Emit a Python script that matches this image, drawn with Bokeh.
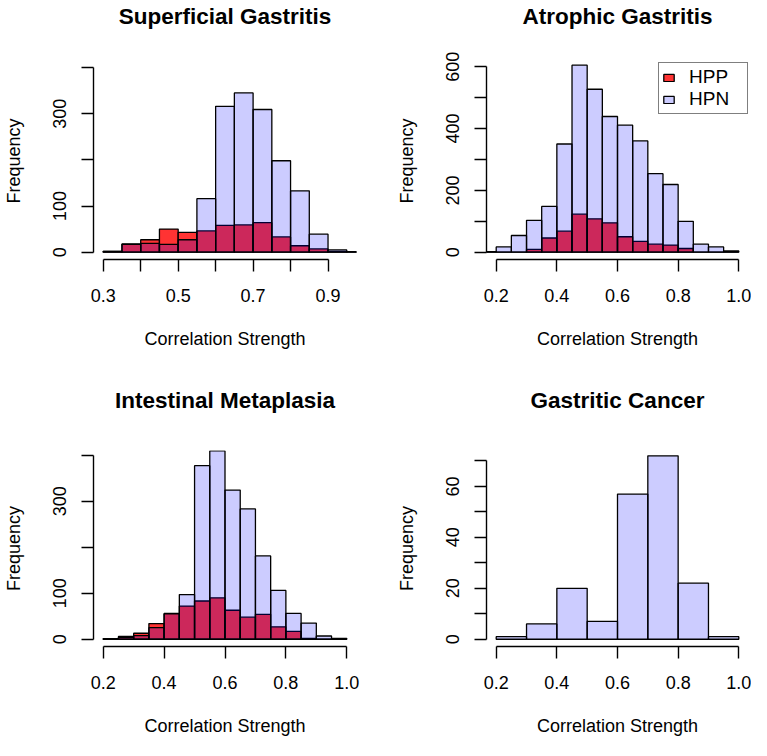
from bokeh.plotting import figure
from bokeh.layouts import gridplot
from bokeh.models import (FixedTicker, Range1d, Legend, LegendItem, Title,
                          PrintfTickFormatter)
from bokeh.embed import file_html
from bokeh.resources import INLINE

FONT = "Liberation Sans"
HPP_COLOR = "#ff0000"
HPN_COLOR = "#0000ff"

# ---------------- data ----------------
# Superficial Gastritis (bin width 0.05)
sg_left = [0.30, 0.35, 0.40, 0.45, 0.50, 0.55, 0.60, 0.65, 0.70, 0.75, 0.80, 0.85, 0.90, 0.95]
sg_hpp = [2, 18, 27, 50, 43, 46, 58, 59, 64, 33, 14, 7, 2, 0]
sg_hpn = [2, 17, 19, 17, 27, 116, 316, 345, 309, 198, 133, 39, 5, 1]

# Atrophic Gastritis
ag_left = [0.15, 0.20, 0.25, 0.30, 0.35, 0.40, 0.45, 0.50, 0.55, 0.60, 0.65, 0.70, 0.75, 0.80, 0.85, 0.90, 0.95]
ag_hpp = [0, 0, 0, 9, 46, 68, 123, 108, 95, 50, 35, 26, 23, 12, 0, 0, 0]
ag_hpn = [2, 17, 54, 103, 148, 350, 605, 527, 439, 411, 360, 254, 219, 100, 26, 17, 4]

# Intestinal Metaplasia
im_left = [0.20, 0.25, 0.30, 0.35, 0.40, 0.45, 0.50, 0.55, 0.60, 0.65, 0.70, 0.75, 0.80, 0.85, 0.90, 0.95]
im_hpp = [1, 6, 13, 34, 56, 72, 83, 90, 63, 48, 54, 27, 17, 2, 0, 0]
im_hpn = [1, 4, 8, 25, 55, 97, 377, 409, 324, 283, 181, 106, 56, 35, 7, 2]

# Gastritic Cancer (bin width 0.1)
gc_left = [0.2, 0.3, 0.4, 0.5, 0.6, 0.7, 0.8, 0.9]
gc_hpn = [1, 6, 20, 7, 57, 72, 22, 1]

# tick labels (labelled) and unlabelled ticks
sg_xticks, sg_xminor = [0.3, 0.5, 0.7, 0.9], [0.4, 0.6, 0.8]
sg_yticks, sg_yminor = [0, 100, 300], [200, 400]
ag_xticks, ag_xminor = [0.2, 0.4, 0.6, 0.8, 1.0], []
ag_yticks, ag_yminor = [0, 200, 400, 600], [100, 300, 500]
im_xticks, im_xminor = [0.2, 0.4, 0.6, 0.8, 1.0], []
im_yticks, im_yminor = [0, 100, 300], [200, 400]
gc_xticks, gc_xminor = [0.2, 0.4, 0.6, 0.8, 1.0], []
gc_yticks, gc_yminor = [0, 20, 40, 60], [10, 30, 50, 70]

FRAME_W = 266


def make_panel(title, width, height, bl, br, bt, bb, xr, yr, xb, yb,
               xt, xm, yt, ym, spacer):
    p = figure(width=width, height=height, output_backend="svg", title=None,
               toolbar_location=None, x_range=Range1d(*xr), y_range=Range1d(*yr),
               min_border_left=bl, min_border_right=br,
               min_border_top=bt, min_border_bottom=bb)
    p.outline_line_color = None
    p.grid.visible = False
    p.background_fill_color = "white"
    p.border_fill_color = "white"

    for ax, ticks, minor, bounds, lab in ((p.xaxis[0], xt, xm, xb, "Correlation Strength"),
                                          (p.yaxis[0], yt, ym, yb, "Frequency")):
        ax.ticker = FixedTicker(ticks=ticks, minor_ticks=minor)
        ax.bounds = bounds
        ax.axis_label = lab
        ax.axis_label_text_font = FONT
        ax.axis_label_text_font_size = "18px"
        ax.axis_label_text_font_style = "normal"
        ax.axis_label_text_color = "black"
        ax.major_label_text_font = FONT
        ax.major_label_text_font_size = "18px"
        ax.major_label_text_color = "black"
        ax.axis_line_width = 1.4
        ax.axis_line_color = "black"
        ax.major_tick_line_color = "black"
        ax.minor_tick_line_color = "black"
        ax.major_tick_line_width = 1.4
        ax.minor_tick_line_width = 1.4
        ax.major_tick_out = 12
        ax.major_tick_in = 0
        ax.minor_tick_out = 12
        ax.minor_tick_in = 0
    p.xaxis.formatter = PrintfTickFormatter(format="%.1f")
    p.xaxis.major_label_standoff = 17
    p.xaxis.axis_label_standoff = 24
    p.yaxis.major_label_orientation = "vertical"
    p.yaxis.major_label_standoff = 15
    p.yaxis.axis_label_standoff = 27

    # blank spacer nearest the frame, then the real title above it
    p.add_layout(Title(text=" ", text_font_size="10px", standoff=spacer), "above")
    p.add_layout(Title(text=title, align="center", standoff=0,
                       text_font=FONT, text_font_size="22.5px",
                       text_font_style="bold", text_color="black"), "above")
    return p


def bars(p, left, counts, color, alpha):
    width = [round(left[1] - left[0], 4)] * len(left)
    right = [l + w for l, w in zip(left, width)]
    return p.quad(left=left, right=right, bottom=0, top=counts,
                  fill_color=color, fill_alpha=alpha,
                  line_color="black", line_width=1.3)


W1 = 90 + FRAME_W + 37
W2 = 89 + FRAME_W + 3
H1 = 62 + 197 + 97
H2 = 94 + 196 + 94

p1 = make_panel("Superficial Gastritis", W1, H1, 90, 37, 62, 97,
                (0.274, 0.976), (-15.8, 410.8), (0.3, 0.9), (0, 400),
                sg_xticks, sg_xminor, sg_yticks, sg_yminor, 21)
bars(p1, sg_left, sg_hpp, HPP_COLOR, 0.8)
bars(p1, sg_left, sg_hpn, HPN_COLOR, 0.2)

p2 = make_panel("Atrophic Gastritis", W2, H1, 89, 3, 62, 97,
                (0.168, 1.032), (-23.6, 613.6), (0.2, 1.0), (0, 600),
                ag_xticks, ag_xminor, ag_yticks, ag_yminor, 21)
r_hpp = bars(p2, ag_left, ag_hpp, HPP_COLOR, 0.8)
r_hpn = bars(p2, ag_left, ag_hpn, HPN_COLOR, 0.2)
legend = Legend(items=[LegendItem(label="HPP", renderers=[r_hpp]),
                       LegendItem(label="HPN", renderers=[r_hpn])],
                location="top_right", margin=0, padding=3, spacing=0,
                label_text_font=FONT, label_text_font_size="19px",
                label_text_color="black",
                label_height=17, label_width=55, glyph_width=13, glyph_height=9,
                border_line_color="black", border_line_width=1.2,
                background_fill_alpha=1.0, label_standoff=14)
p2.add_layout(legend, "center")

p3 = make_panel("Intestinal Metaplasia", W1, H2, 90, 37, 94, 94,
                (0.168, 1.032), (-15.8, 410.0), (0.2, 1.0), (0, 400),
                im_xticks, im_xminor, im_yticks, im_yminor, 25)
bars(p3, im_left, im_hpp, HPP_COLOR, 0.8)
bars(p3, im_left, im_hpn, HPN_COLOR, 0.2)

p4 = make_panel("Gastritic Cancer", W2, H2, 89, 3, 94, 94,
                (0.168, 1.032), (-2.85, 74.1), (0.2, 1.0), (0, 70),
                gc_xticks, gc_xminor, gc_yticks, gc_yminor, 25)
bars(p4, gc_left, gc_hpn, HPN_COLOR, 0.2)

grid = gridplot([[p1, p2], [p3, p4]], toolbar_location=None)

open("out.html", "w").write(file_html(grid, INLINE))
